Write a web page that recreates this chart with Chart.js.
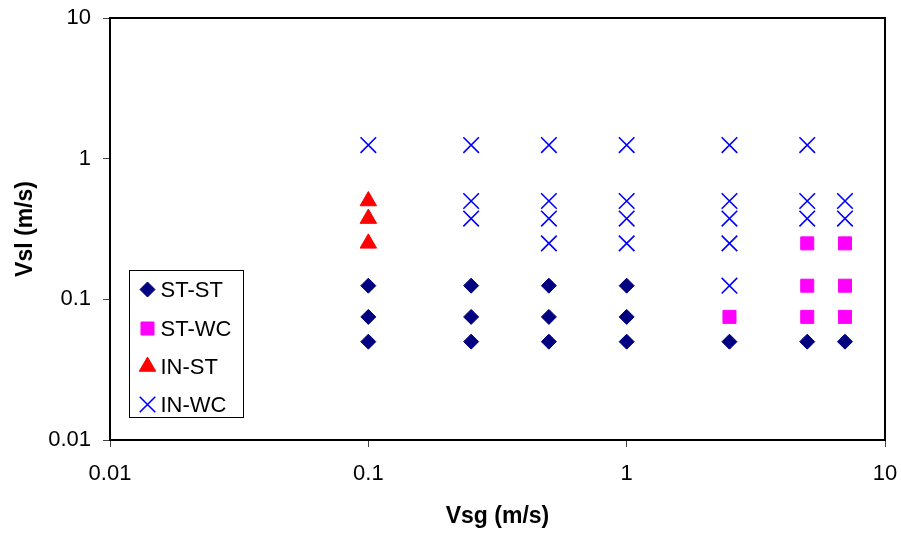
<!DOCTYPE html>
<html>
<head>
<meta charset="utf-8">
<script src="https://cdn.jsdelivr.net/npm/chart.js@4/dist/chart.umd.min.js"></script>
<style>
  html, body { margin: 0; padding: 0; background: #fff; }
  #wrap { width: 901px; height: 533px; }
</style>
</head>
<body>
<div id="wrap"><canvas id="c" width="901" height="533"></canvas></div>
<script>
// ---- data ----
const seriesNames = ['ST-ST', 'ST-WC', 'IN-ST', 'IN-WC'];

const stStX = [0.1, 0.1, 0.1, 0.25, 0.25, 0.25, 0.5, 0.5, 0.5, 1, 1, 1, 2.5, 5, 7];
const stStY = [0.125, 0.075, 0.05, 0.125, 0.075, 0.05, 0.125, 0.075, 0.05, 0.125, 0.075, 0.05, 0.05, 0.05, 0.05];

const stWcX = [2.5, 5, 5, 5, 7, 7, 7];
const stWcY = [0.075, 0.25, 0.125, 0.075, 0.25, 0.125, 0.075];

const inStX = [0.1, 0.1, 0.1];
const inStY = [0.5, 0.375, 0.25];

const inWcX = [0.1, 0.25, 0.25, 0.25, 0.5, 0.5, 0.5, 0.5, 1, 1, 1, 1, 2.5, 2.5, 2.5, 2.5, 2.5, 5, 5, 5, 7, 7];
const inWcY = [1.25, 1.25, 0.5, 0.375, 1.25, 0.5, 0.375, 0.25, 1.25, 0.5, 0.375, 0.25, 1.25, 0.5, 0.375, 0.25, 0.125, 1.25, 0.5, 0.375, 0.5, 0.375];

const xTicks = [0.01, 0.1, 1, 10];
const yTicks = [0.01, 0.1, 1, 10];

function pts(xs, ys) { return xs.map((x, i) => ({ x: x, y: ys[i] })); }

const styles = [
  { pointStyle: 'rectRot', radius: 7.5, color: '#000080', borderWidth: 1 },
  { pointStyle: 'rect', radius: 9.2, color: '#FF00FF', borderWidth: 1 },
  { pointStyle: 'triangle', radius: 9.5, color: '#FF0000', borderWidth: 1 },
  { pointStyle: 'crossRot', radius: 11, color: '#0000FF', borderWidth: 1.6 }
];
const dataArr = [pts(stStX, stStY), pts(stWcX, stWcY), pts(inStX, inStY), pts(inWcX, inWcY)];

const datasets = seriesNames.map((name, i) => ({
  label: name,
  data: dataArr[i],
  showLine: false,
  pointStyle: styles[i].pointStyle,
  pointRadius: styles[i].radius,
  pointHoverRadius: styles[i].radius,
  pointBackgroundColor: styles[i].color,
  pointBorderColor: styles[i].color,
  pointBorderWidth: styles[i].borderWidth,
  backgroundColor: styles[i].color,
  borderColor: styles[i].color
}));

const FONT = "'Liberation Sans', Arial, sans-serif";

function drawMarker(ctx, st, x, y) {
  const r = st.radius;
  ctx.beginPath();
  if (st.pointStyle === 'rectRot') {
    ctx.moveTo(x, y - r); ctx.lineTo(x + r, y); ctx.lineTo(x, y + r); ctx.lineTo(x - r, y); ctx.closePath();
    ctx.fill(); ctx.stroke();
  } else if (st.pointStyle === 'rect') {
    const s = Math.SQRT1_2 * r;
    ctx.rect(x - s, y - s, 2 * s, 2 * s); ctx.fill(); ctx.stroke();
  } else if (st.pointStyle === 'triangle') {
    ctx.moveTo(x, y - r);
    ctx.lineTo(x + Math.sin(Math.PI / 3 * 2) * r, y + r * 0.5);
    ctx.lineTo(x - Math.sin(Math.PI / 3 * 2) * r, y + r * 0.5);
    ctx.closePath(); ctx.fill(); ctx.stroke();
  } else {
    const o = Math.SQRT1_2 * r;
    ctx.moveTo(x - o, y - o); ctx.lineTo(x + o, y + o);
    ctx.moveTo(x + o, y - o); ctx.lineTo(x - o, y + o);
    ctx.stroke();
  }
}

const boxPlugin = {
  id: 'boxAndLegend',
  afterDatasetsDraw(chart) {
    const ctx = chart.ctx;
    const a = chart.chartArea;
    ctx.save();
    // plot frame
    ctx.strokeStyle = '#000';
    ctx.lineWidth = 2;
    ctx.strokeRect(a.left, a.top, a.right - a.left, a.bottom - a.top);
    // legend box inside plot area
    const lx = a.left + 19.5, ly = a.top + 252.5, lw = 114, lh = 147;
    ctx.fillStyle = '#fff';
    ctx.fillRect(lx, ly, lw, lh);
    ctx.strokeStyle = '#000';
    ctx.lineWidth = 1;
    ctx.strokeRect(lx, ly, lw, lh);
    const rowY = [19, 58, 96, 134];
    ctx.font = '22px ' + FONT;
    ctx.textBaseline = 'middle';
    ctx.textAlign = 'left';
    chart.data.datasets.forEach((ds, i) => {
      const cy = ly + rowY[i];
      const cx = lx + 18;
      const st = styles[i];
      ctx.fillStyle = st.color;
      ctx.strokeStyle = st.color;
      ctx.lineWidth = st.borderWidth;
      drawMarker(ctx, st, cx, cy);
      ctx.fillStyle = '#000';
      ctx.fillText(ds.label, lx + 31, cy + 1);
    });
    ctx.restore();
  }
};

function keepTicks(list) {
  return function (scale) {
    scale.ticks = list.map(v => ({ value: v, major: true }));
  };
}
function fmt(v) {
  if (v >= 1) return String(Math.round(v));
  return String(Number(v.toPrecision(1)));
}

new Chart(document.getElementById('c'), {
  type: 'scatter',
  data: { datasets: datasets },
  plugins: [boxPlugin],
  options: {
    responsive: false,
    animation: false,
    layout: { padding: { left: 0, right: 16, top: 18, bottom: 0 } },
    plugins: {
      legend: { display: false },
      tooltip: { enabled: false }
    },
    scales: {
      x: {
        type: 'logarithmic',
        min: 0.01,
        max: 10,
        afterBuildTicks: keepTicks(xTicks),
        afterFit(scale) { scale.height = 93; scale.paddingLeft = 0; scale.paddingRight = 0; },
        grid: { drawOnChartArea: false, drawTicks: true, tickLength: 7, color: '#444', lineWidth: 1 },
        border: { display: true, color: '#000', width: 2 },
        ticks: {
          color: '#000',
          font: { family: FONT, size: 22 },
          padding: 14,
          maxRotation: 0,
          autoSkip: false,
          callback: (v) => fmt(v)
        },
        title: {
          display: true,
          text: 'Vsg (m/s)',
          color: '#000',
          font: { family: FONT, size: 23, weight: 'bold' },
          padding: { top: 0, bottom: 3 }
        }
      },
      y: {
        type: 'logarithmic',
        min: 0.01,
        max: 10,
        afterBuildTicks: keepTicks(yTicks),
        afterFit(scale) { scale.width = 110; scale.paddingTop = 0; scale.paddingBottom = 0; },
        grid: { drawOnChartArea: false, drawTicks: true, tickLength: 7, color: '#444', lineWidth: 1 },
        border: { display: true, color: '#000', width: 2 },
        ticks: {
          color: '#000',
          font: { family: FONT, size: 22 },
          padding: 12,
          autoSkip: false,
          callback: (v) => fmt(v)
        },
        title: {
          display: true,
          text: 'Vsl (m/s)',
          color: '#000',
          font: { family: FONT, size: 23, weight: 'bold' },
          padding: { top: 12, bottom: 0 }
        }
      }
    }
  }
});
</script>
</body>
</html>
